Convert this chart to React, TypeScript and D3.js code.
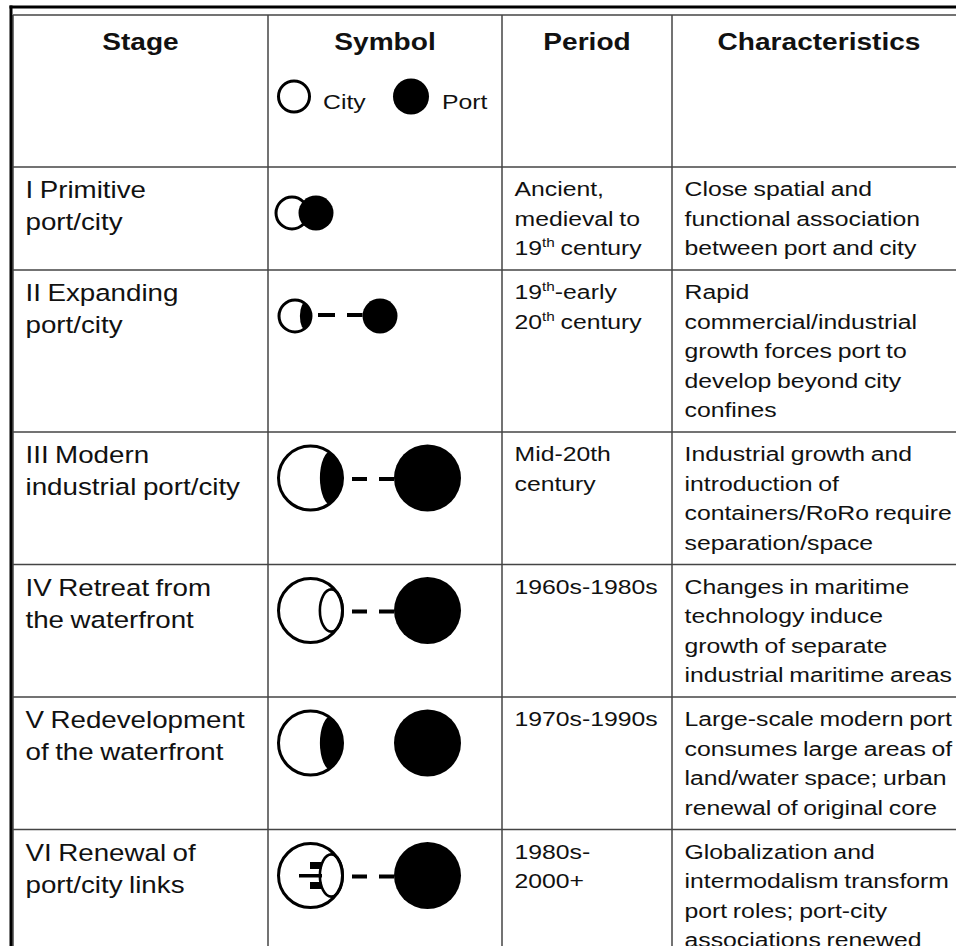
import React from 'react';
import * as d3 from 'd3';

// table content
const headers = ['Stage', 'Symbol', 'Period', 'Characteristics'];
const legendLabels = ['City', 'Port'];

const stages = [
  ['I Primitive', 'port/city'],
  ['II Expanding', 'port/city'],
  ['III Modern', 'industrial port/city'],
  ['IV Retreat from', 'the waterfront'],
  ['V Redevelopment', 'of the waterfront'],
  ['VI Renewal of', 'port/city links'],
];

// "^xx" marks a superscript
const periods = [
  ['Ancient,', 'medieval to', '19^th century'],
  ['19^th-early', '20^th century'],
  ['Mid-20th', 'century'],
  ['1960s-1980s'],
  ['1970s-1990s'],
  ['1980s-', '2000+'],
];

const characteristics = [
  ['Close spatial and', 'functional association', 'between port and city'],
  ['Rapid', 'commercial/industrial', 'growth forces port to', 'develop beyond city', 'confines'],
  ['Industrial growth and', 'introduction of', 'containers/RoRo require', 'separation/space'],
  ['Changes in maritime', 'technology induce', 'growth of separate', 'industrial maritime areas'],
  ['Large-scale modern port', 'consumes large areas of', 'land/water space; urban', 'renewal of original core'],
  ['Globalization and', 'intermodalism transform', 'port roles; port-city', 'associations renewed'],
];

const symbolTypes = ['joined', 'expanding', 'modern', 'retreat', 'redevelopment', 'renewal'];

// layout
const W = 956;
const H = 946;
const colEdges = [13, 268, 502, 672, 966];
const tableTop = 15;
const headerH = 152;
const lineH = 29.5;
const rowPad = 14.5;
const textPad = 12.5;
const FONT = "'Liberation Sans', Arial, Helvetica, sans-serif";
const INK = '#111';
const GRID = '#444';

const rowLines = stages.map((s, i) =>
  Math.max(s.length, periods[i].length, characteristics[i].length)
);
const rowHeights = rowLines.map((n) => n * lineH + rowPad);
const rowTops = [tableTop + headerH, ...Array.from(d3.cumsum(rowHeights)).map((c) => tableTop + headerH + c)];

// baselines inside a row: body columns and the (larger) stage column
const lineY = d3.scaleLinear().domain([0, 1]).range([29, 29 + lineH]);
const stageLineY = d3.scaleLinear().domain([0, 1]).range([31, 63]);

interface TxtProps {
  x: number;
  y: number;
  text: string;
  anchor?: 'start' | 'middle' | 'end';
  bold?: boolean;
  size?: number;
}

const Txt: React.FC<TxtProps> = ({ x, y, text, anchor = 'start', bold = false, size = 21 }) => {
  const parts = text.split(/\^(\w+)/);
  return (
    <text
      transform={`translate(${x},${y}) scale(${bold ? 1.17 : 1.18},1)`}
      textAnchor={anchor}
      fontFamily={FONT}
      fontSize={size}
      fontWeight={bold ? 'bold' : 'normal'}
      fill={INK}
      wordSpacing={bold ? 0 : -1}
    >
      {parts.map((p, i) =>
        i % 2 === 1 ? (
          <tspan key={i} fontSize={13} dy={-8}>{p}</tspan>
        ) : (
          <tspan key={i} dy={i > 0 ? 8 : 0}>{p}</tspan>
        )
      )}
    </text>
  );
};

// city circle with an optional inner lens (filled or outlined)
const City: React.FC<{ cx: number; cy: number; R: number; lens?: 'fill' | 'line'; id: string }> = ({ cx, cy, R, lens, id }) => {
  const sw = 3;
  const r = R - sw / 2;
  return (
    <g>
      <defs>
        <clipPath id={id}>
          <circle cx={cx} cy={cy} r={r} />
        </clipPath>
      </defs>
      <circle cx={cx} cy={cy} r={r} fill="#fff" />
      {lens === 'fill' && (
        <ellipse cx={cx + 0.64 * R} cy={cy} rx={0.36 * R} ry={0.82 * R} fill="#000" clipPath={`url(#${id})`} />
      )}
      {lens === 'line' && (
        <ellipse cx={cx + 0.62 * R} cy={cy} rx={0.34 * R} ry={0.63 * R} fill="none" stroke="#000" strokeWidth={2.6} />
      )}
      <circle cx={cx} cy={cy} r={r} fill="none" stroke="#000" strokeWidth={sw} />
    </g>
  );
};

const Link: React.FC<{ x1: number; x2: number; y: number; dash: string }> = ({ x1, x2, y, dash }) => (
  <line x1={x1} x2={x2} y1={y} y2={y} stroke="#000" strokeWidth={4} strokeDasharray={dash} />
);

const Symbol: React.FC<{ type: string; cy: number; i: number }> = ({ type, cy, i }) => {
  const id = `clip-${i}`;
  if (type === 'joined') {
    const R = 17.5;
    return (
      <g>
        <City cx={292} cy={cy} R={R} id={id} />
        <circle cx={316} cy={cy} r={R} fill="#000" />
      </g>
    );
  }
  if (type === 'expanding') {
    const R = 17.5;
    const cityX = 295;
    const portX = 380;
    return (
      <g>
        <City cx={cityX} cy={cy} R={R} lens="fill" id={id} />
        <Link x1={cityX + R + 5.5} x2={portX - R} y={cy - 1} dash="17 12" />
        <circle cx={portX} cy={cy} r={R} fill="#000" />
      </g>
    );
  }
  const R = 33.5;
  const cityX = 310.5;
  const portX = 427.5;
  const lens = type === 'modern' || type === 'redevelopment' ? 'fill' : 'line';
  return (
    <g>
      <City cx={cityX} cy={cy} R={R} lens={lens} id={id} />
      {type !== 'redevelopment' && (
        <Link x1={cityX + R + 8} x2={portX - R} y={cy + 1} dash="15 12" />
      )}
      {type === 'renewal' && (
        <g fill="#000">
          <rect x={cityX - 11.5} y={cy - 1.5} width={23} height={3.5} />
          <rect x={cityX - 0.5} y={cy - 13.5} width={11.5} height={7} />
          <rect x={cityX - 0.5} y={cy + 6.5} width={11.5} height={7} />
        </g>
      )}
      <circle cx={portX} cy={cy} r={R} fill="#000" />
    </g>
  );
};

export default function App() {
  const colCenters = d3.pairs(colEdges).map(([a, b]) => (a + b) / 2);
  const textX = colEdges.map((x) => x + textPad);

  return (
    <div>
      <style>{`body{margin:0;background:#fff}`}</style>
      <svg width={W} height={H} viewBox={`0 0 ${W} ${H}`} style={{ display: 'block', overflow: 'hidden' }}>
        <rect x={0} y={0} width={W} height={H} fill="#fff" />

        {/* grid */}
        <g stroke={GRID} strokeWidth={1.5}>
          {[tableTop, ...rowTops.slice(0, -1)].map((y, i) => (
            <line key={`h${i}`} x1={colEdges[0]} x2={W} y1={y} y2={y} />
          ))}
          {colEdges.slice(0, 4).map((x, i) => (
            <line key={`v${i}`} x1={x} x2={x} y1={tableTop} y2={H} />
          ))}
        </g>

        {/* outer frame */}
        <g stroke="#000" strokeWidth={3}>
          <line x1={9.5} x2={W} y1={7} y2={7} />
          <line x1={11} x2={11} y1={5.5} y2={H} />
        </g>

        {/* header */}
        {headers.map((h, i) => (
          <Txt key={h} x={colCenters[i]} y={50} text={h} anchor="middle" bold size={24} />
        ))}
        <City cx={294} cy={96.5} R={17} id="legend-city" />
        <Txt x={323} y={109} text={legendLabels[0]} />
        <circle cx={411} cy={96.5} r={18} fill="#000" />
        <Txt x={442} y={109} text={legendLabels[1]} />

        {/* rows */}
        {stages.map((s, i) => {
          const top = rowTops[i];
          return (
            <g key={i}>
              {s.map((t, j) => (
                <Txt key={`s${j}`} x={textX[0]} y={top + stageLineY(j)} text={t} size={23.5} />
              ))}
              <Symbol type={symbolTypes[i]} cy={top + 46} i={i} />
              {periods[i].map((t, j) => (
                <Txt key={`p${j}`} x={textX[2]} y={top + lineY(j)} text={t} />
              ))}
              {characteristics[i].map((t, j) => (
                <Txt key={`c${j}`} x={textX[3]} y={top + lineY(j)} text={t} />
              ))}
            </g>
          );
        })}
      </svg>
    </div>
  );
}
